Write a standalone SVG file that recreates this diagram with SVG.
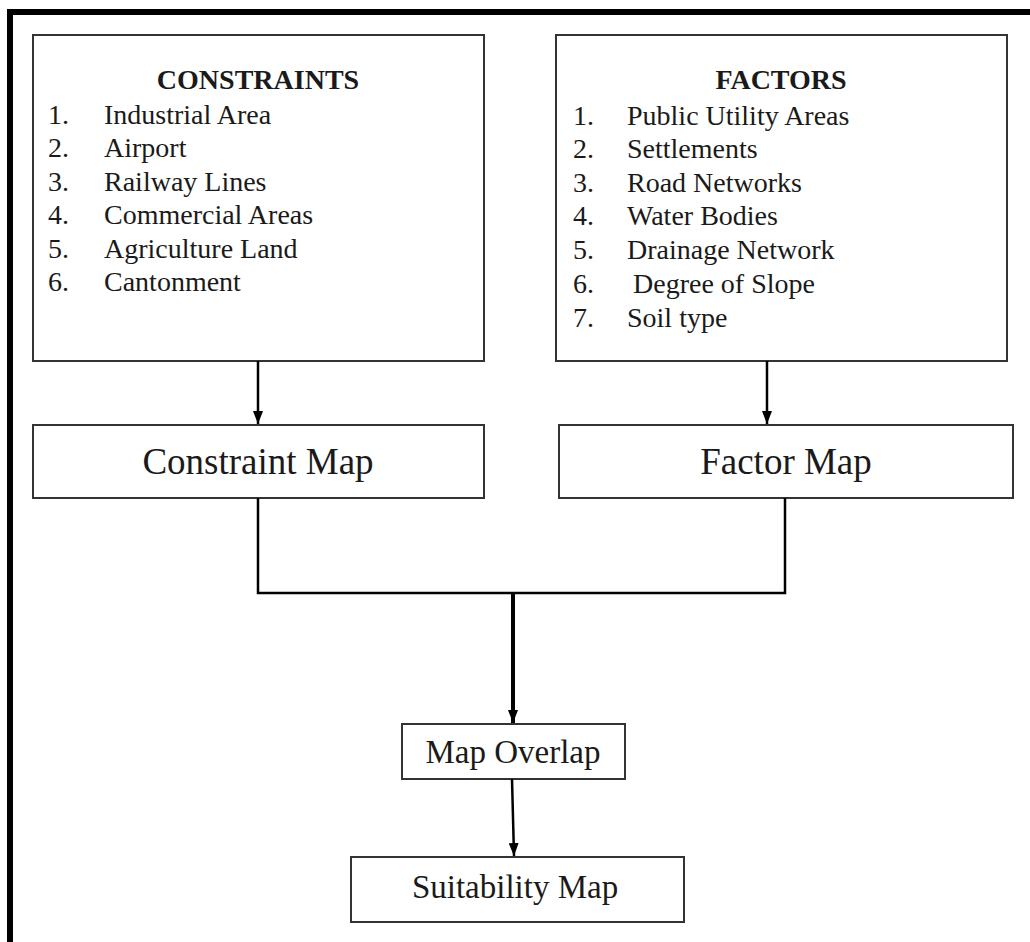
<svg xmlns="http://www.w3.org/2000/svg" width="1030" height="942" viewBox="0 0 1030 942">
<defs>
<style>
.box{fill:#fff;stroke:#333;stroke-width:2}
.t{fill:#1a1a1a}
.list{font-size:28px}
.title{font-size:28px;font-weight:bold}
.big{font-size:37px}
.mid{font-size:33px}
.conn{fill:none;stroke:#000;stroke-width:2.5}
.thick{fill:none;stroke:#000;stroke-width:4}
</style>
<marker id="ah" markerWidth="13" markerHeight="10" refX="13" refY="5" orient="auto" markerUnits="userSpaceOnUse" viewBox="0 0 13 10">
<path d="M0,0 L13,5 L0,10 Z" fill="#000"/>
</marker>
</defs>
<rect width="1030" height="942" fill="#fff"/>
<rect x="7" y="9" width="1023" height="6" fill="#000"/>
<rect x="7" y="9" width="6" height="933" fill="#000"/>

<g font-family="Liberation Serif">
<g id="constraints">
<rect class="box" x="33" y="35" width="451" height="326"/>
<text class="t title" x="258" y="89" text-anchor="middle">CONSTRAINTS</text>
<g class="t list">
<text x="48" y="124">1.</text><text x="104" y="124">Industrial Area</text>
<text x="48" y="157">2.</text><text x="104" y="157">Airport</text>
<text x="48" y="191">3.</text><text x="104" y="191">Railway Lines</text>
<text x="48" y="224">4.</text><text x="104" y="224">Commercial Areas</text>
<text x="48" y="258">5.</text><text x="104" y="258">Agriculture Land</text>
<text x="48" y="291">6.</text><text x="104" y="291">Cantonment</text>
</g>
</g>

<g id="factors">
<rect class="box" x="556" y="35" width="451" height="326"/>
<text class="t title" x="781" y="89" text-anchor="middle">FACTORS</text>
<g class="t list">
<text x="573" y="125">1.</text><text x="627" y="125">Public Utility Areas</text>
<text x="573" y="158">2.</text><text x="627" y="158">Settlements</text>
<text x="573" y="192">3.</text><text x="627" y="192">Road Networks</text>
<text x="573" y="225">4.</text><text x="627" y="225">Water Bodies</text>
<text x="573" y="259">5.</text><text x="627" y="259">Drainage Network</text>
<text x="573" y="293">6.</text><text x="633" y="293">Degree of Slope</text>
<text x="573" y="327">7.</text><text x="627" y="327">Soil type</text>
</g>
</g>

<g id="constraint-map">
<rect class="box" x="33" y="425" width="451" height="73"/>
<text class="t big" x="258" y="474" text-anchor="middle">Constraint Map</text>
</g>

<g id="factor-map">
<rect class="box" x="559" y="425" width="454" height="73"/>
<text class="t big" x="786" y="474" text-anchor="middle">Factor Map</text>
</g>

<g id="map-overlap">
<rect class="box" x="402" y="724" width="223" height="55"/>
<text class="t mid" x="513" y="763" text-anchor="middle">Map Overlap</text>
</g>

<g id="suitability-map">
<rect class="box" x="351" y="857" width="333" height="65"/>
<text class="t mid" x="515" y="898" text-anchor="middle">Suitability Map</text>
</g>
</g>

<g id="connectors">
<line class="conn" x1="258" y1="361" x2="258" y2="424" marker-end="url(#ah)"/>
<line class="conn" x1="767" y1="361" x2="767" y2="424" marker-end="url(#ah)"/>
<polyline class="conn" points="258,498 258,593 785,593 785,498"/>
<line class="thick" x1="513" y1="593" x2="513" y2="723" marker-end="url(#ah)"/>
<line class="conn" x1="512" y1="779" x2="514" y2="856" marker-end="url(#ah)"/>
</g>
</svg>
